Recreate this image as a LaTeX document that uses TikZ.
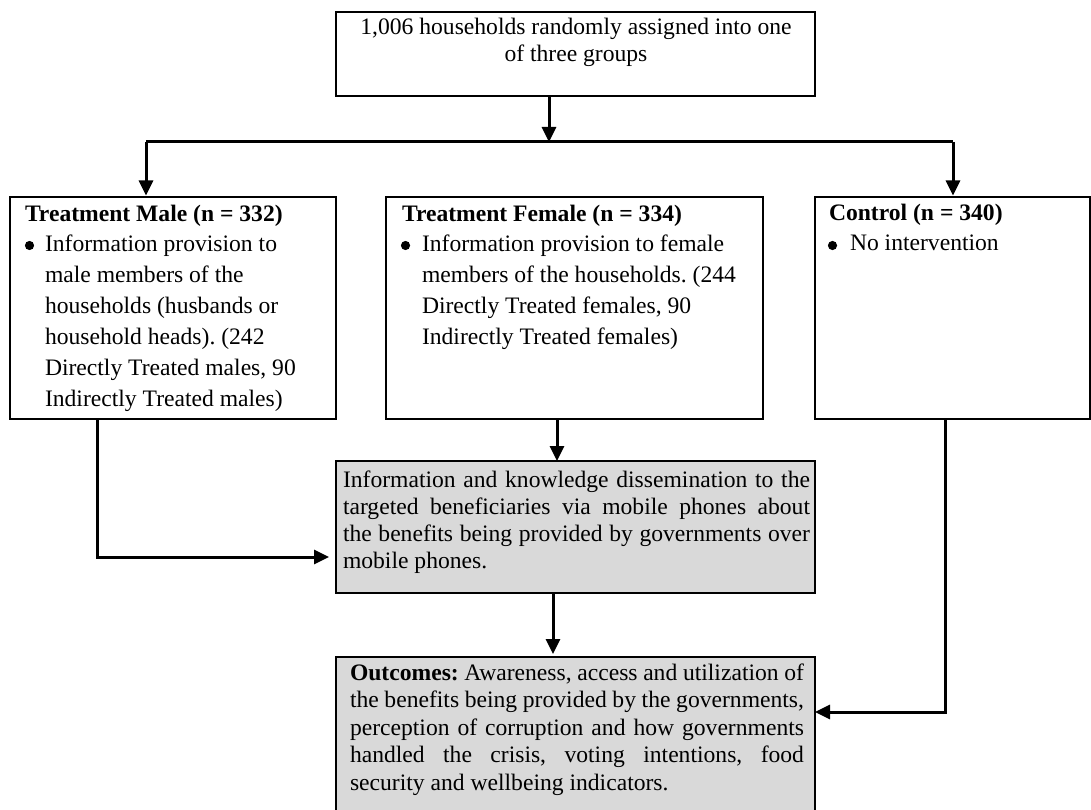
\documentclass[tikz,border=0pt]{standalone}
\usepackage{fontspec}
\setmainfont{Liberation Serif}
\frenchspacing
\usetikzlibrary{arrows.meta}
\definecolor{boxgray}{RGB}{217,217,217}
\tikzset{
  box/.style={draw=black, line width=1.6pt, rectangle, inner sep=0pt, outer sep=0pt},
  graybox/.style={box, fill=boxgray},
  conn/.style={line width=3pt, draw=black},
  arr/.style={conn, -{Triangle[length=15pt,width=14pt]}},
  txtA/.style={inner sep=0pt, outer sep=0pt, align=left, font=\frenchspacing\fontsize{23.6pt}{31pt}\selectfont},
  txtB/.style={inner sep=0pt, outer sep=0pt, align=left, font=\frenchspacing\fontsize{23.6pt}{27pt}\selectfont},
  txtC/.style={inner sep=0pt, outer sep=0pt, align=left, font=\frenchspacing\fontsize{23.6pt}{27.5pt}\selectfont},
  bul/.style={fill=black}
}
\begin{document}
\begin{tikzpicture}[x=1pt,y=-1pt]
\useasboundingbox (0,0) rectangle (1091,810);
% boxes
\node[box, minimum width=479pt, minimum height=84pt] (top) at (575.5,54) {};
\node[box, minimum width=326pt, minimum height=222pt] (tm) at (173,308) {};
\node[box, minimum width=377pt, minimum height=222pt] (tf) at (574.5,308) {};
\node[box, minimum width=275pt, minimum height=222pt] (ctrl) at (952.5,308) {};
\node[graybox, minimum width=479pt, minimum height=132pt] (diss) at (575.5,527) {};
\node[graybox, minimum width=479pt, minimum height=155pt] (out) at (575.5,734.5) {};
% texts (anchor = baseline of the last line)
\node[txtB, anchor=base, align=center] (toptxt) at (576,62)
  {1,006 households randomly assigned into one\\of three groups};
\node[txtA, anchor=base west] (tmtxt) at (25,406)
  {\textbf{Treatment Male (n = 332)}\\[-1pt]
   \hspace*{20pt}Information provision to\\
   \hspace*{20pt}male members of the\\
   \hspace*{20pt}households (husbands or\\
   \hspace*{20pt}household heads). (242\\
   \hspace*{20pt}Directly Treated males, 90\\
   \hspace*{20pt}Indirectly Treated males)};
\node[txtA, anchor=base west] (tftxt) at (402,344)
  {\textbf{Treatment Female (n = 334)}\\[-1pt]
   \hspace*{20pt}Information provision to female\\
   \hspace*{20pt}members of the households. (244\\
   \hspace*{20pt}Directly Treated females, 90\\
   \hspace*{20pt}Indirectly Treated females)};
\node[txtA, anchor=base west] (ctrltxt) at (829,251)
  {\textbf{Control (n = 340)}\\[-1pt]
   \hspace*{21pt}No intervention};
\fill[bul] (29.5,245.5) circle (4.6pt);
\fill[bul] (405.5,245.5) circle (4.6pt);
\fill[bul] (832.5,245.5) circle (4.6pt);
\node[txtB, anchor=base west] (disstxt) at (343,568)
  {\makebox[467pt][s]{Information and knowledge dissemination to the}\\
   \makebox[467pt][s]{targeted beneficiaries via mobile phones about}\\
   \makebox[467pt][s]{the benefits being provided by governments over}\\
   mobile phones.};
\node[txtC, anchor=base west] (outtxt) at (350,790)
  {\makebox[454pt][s]{\textbf{Outcomes:} Awareness, access and utilization of}\\
   \makebox[454pt][s]{the benefits being provided by the governments,}\\
   \makebox[454pt][s]{perception of corruption and how governments}\\
   \makebox[454pt][s]{handled the crisis, voting intentions, food}\\
   security and wellbeing indicators.};
% connectors
\coordinate (j) at (549,142);
\coordinate (jl) at (146,142);
\coordinate (jr) at (953,142);
\coordinate (xm) at (557,0);
\coordinate (xd) at (553,0);
\coordinate (lb) at (97,557);
\coordinate (rb) at (945,712);
\draw[arr] (top.south -| j) -- (j);
\draw[conn] (jl) -- (jr);
\draw[arr, shorten >=1.5pt] (jl) -- (tm.north -| jl);
\draw[arr, shorten >=1.5pt] (jr) -- (ctrl.north -| jr);
\draw[arr] (tf.south -| xm) -- (diss.north -| xm);
\draw[arr, shorten >=7pt] (tm.south -| lb) |- (diss.west |- lb);
\draw[arr, shorten >=3pt] (diss.south -| xd) -- (out.north -| xd);
\draw[arr] (ctrl.south -| rb) |- (out.east |- rb);
\end{tikzpicture}
\end{document}
